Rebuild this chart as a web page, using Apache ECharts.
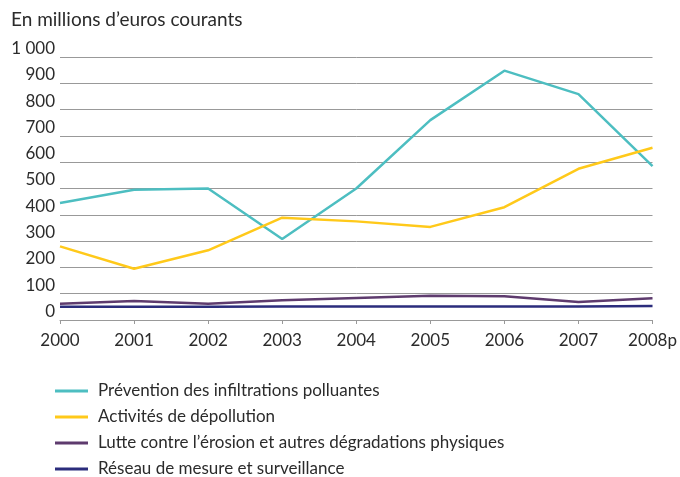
<!DOCTYPE html>
<html>
<head>
<meta charset="utf-8">
<script src="https://cdn.jsdelivr.net/npm/echarts@6/dist/echarts.min.js"></script>
<style>
  html, body { margin: 0; padding: 0; background: #fff; }
  #chart { width: 680px; height: 477px; }
</style>
</head>
<body>
<div id="chart"></div>
<script>
// données
const years = ["2000", "2001", "2002", "2003", "2004", "2005", "2006", "2007", "2008p"];
const prevention = [445, 495, 500, 308, 500, 760, 948, 859, 585];
const depollution = [280, 195, 265, 389, 375, 354, 429, 575, 655];
const erosion = [62, 72, 62, 75, 84, 92, 90, 68, 83];
const reseau = [50, 50, 50, 51, 51, 51, 51, 51, 53];

const seriesNames = [
    "Prévention des infiltrations polluantes",
    "Activités de dépollution",
    "Lutte contre l’érosion et autres dégradations physiques",
    "Réseau de mesure et surveillance",
];
const colors = ["#4DBEC1", "#FFC91A", "#5E3B6E", "#2B2C7C"];

const font = "Lato";
const textColor = "#2b2b2b";

function makeLine(name, data, color) {
    return {
        name: name,
        type: "line",
        data: data,
        showSymbol: false,
        symbol: "none",
        lineStyle: { color: color, width: 2.5 },
        itemStyle: { color: color },
    };
}

const option = {
    animation: false,
    title: {
        text: "En millions d’euros courants",
        left: 6,
        top: 5,
        textStyle: { color: textColor, fontSize: 19, fontWeight: "normal", fontFamily: font },
    },
    grid: {
        left: 60,
        right: 24,
        top: 57,
        height: 263,
        containLabel: false,
    },
    legend: {
        orient: "vertical",
        left: 55,
        top: 381,
        height: 120,
        padding: 0,
        icon: "rect",
        itemWidth: 33,
        itemHeight: 3,
        itemGap: 6,
        textStyle: { color: textColor, fontSize: 17, fontFamily: font, lineHeight: 20, padding: [0, 0, 0, 5] },
        data: seriesNames,
    },
    xAxis: {
        type: "category",
        boundaryGap: false,
        data: years,
        axisLine: { lineStyle: { color: "#999", width: 1 } },
        axisTick: { show: true, length: 4, alignWithLabel: true, lineStyle: { color: "#999" } },
        axisLabel: { color: textColor, fontSize: 17, fontFamily: font, margin: 12 },
        splitLine: { show: false },
    },
    yAxis: {
        type: "value",
        min: 0,
        max: 1000,
        interval: 100,
        axisLine: { show: false },
        axisTick: { show: false },
        axisLabel: {
            color: textColor,
            fontSize: 17,
            fontFamily: font,
            margin: 5,
            verticalAlign: "bottom",
            formatter: function (v) {
                return v >= 1000 ? "1 000" : String(v);
            },
        },
        splitLine: { lineStyle: { color: "#999", width: 1 } },
    },
    series: [
        makeLine(seriesNames[0], prevention, colors[0]),
        makeLine(seriesNames[1], depollution, colors[1]),
        makeLine(seriesNames[2], erosion, colors[2]),
        makeLine(seriesNames[3], reseau, colors[3]),
    ],
};

const myChart = echarts.init(document.getElementById("chart"));
myChart.setOption(option);
</script>
</body>
</html>
